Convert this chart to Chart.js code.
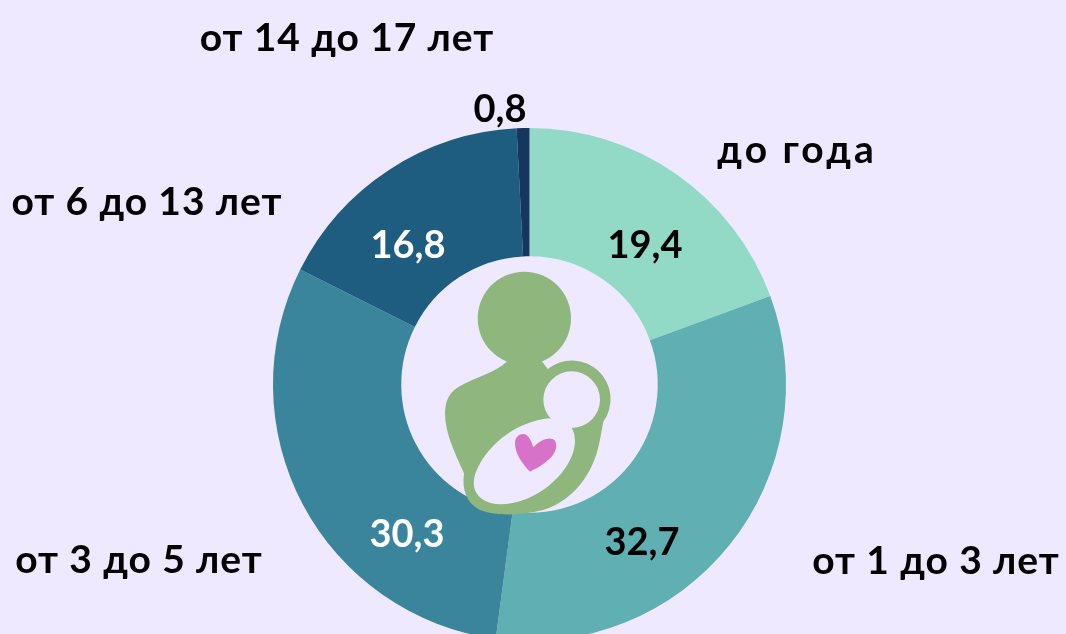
<!DOCTYPE html>
<html lang="ru">
<head>
<meta charset="utf-8">
<title>Возраст детей</title>
<script src="https://cdn.jsdelivr.net/npm/chart.js@4"></script>
<style>
    html, body { margin: 0; width: 1066px; height: 634px; overflow: hidden; background: #EEE9FF; }
    #wrap { position: relative; width: 1066px; height: 634px; overflow: hidden; }
    canvas { position: absolute; left: 0; top: 0; }
    #icon { position: absolute; left: 400px; top: 250px; width: 260px; height: 280px; }
</style>
</head>
<body>
<div id="wrap">
    <canvas id="chartVozrast" width="1066" height="700"></canvas>
    <svg id="icon" viewBox="0 0 780 840">
        <circle cx="373" cy="205" r="140" fill="#8FB67C"/>
        <path fill="#8FB67C" d="M320,335 C290,365 230,380 180,408 C150,425 135,450 135,490 C135,550 165,610 192,670 C185,720 200,760 240,780 C290,800 370,795 430,780 C510,755 565,690 590,610 C600,575 605,540 610,515 A116,116 0 0 0 443,357 L427,335 Z"/>
        <circle cx="515" cy="449" r="85" fill="#EEE9FF"/>
        <path fill="#EEE9FF" d="M448,505 C350,515 270,580 235,650 C205,705 225,755 290,762 C370,770 470,710 510,630 C530,590 528,555 515,533 Z"/>
        <path fill="#D673C9" d="M390,665 C365,640 345,610 345,580 C345,560 358,552 370,552 C385,552 395,575 400,592 C415,575 440,560 458,567 C475,575 472,605 450,625 C430,645 410,655 390,665 Z"/>
    </svg>
</div>
<script>
const categorias = ["до года", "от 1 до 3 лет", "от 3 до 5 лет", "от 6 до 13 лет", "от 14 до 17 лет"];
const valores = [19.4, 32.7, 30.3, 16.8, 0.8];
const colores = ["#92DAC5", "#60AFB2", "#3A859C", "#1E5D7F", "#15375F"];
const coloresValor = ["#000000", "#000000", "#FFFFFF", "#FFFFFF", "#000000"];

// posiciones de los textos, a mano
const posCategoria = [[797, 150], [936, 561], [139, 560], [147, 202], [347, 38]];
const posValor = [[645, 246], [642, 543], [407, 535], [408, 246], [500, 110]];
const espaciado = ["3px", "0.9px", "0.9px", "0.9px", "0.9px"];

const textos = {
    id: "textos",
    afterDraw(chart) {
        const ctx = chart.ctx;
        ctx.save();
        ctx.textAlign = "center";
        ctx.textBaseline = "middle";
        ctx.font = "700 39px Lato";
        ctx.fillStyle = "#000000";
        categorias.forEach((c, i) => {
            ctx.letterSpacing = espaciado[i];
            ctx.fillText(c, posCategoria[i][0], posCategoria[i][1]);
        });
        ctx.font = "700 38px Lato";
        ctx.letterSpacing = "0px";
        valores.forEach((v, i) => {
            ctx.fillStyle = coloresValor[i];
            ctx.fillText(String(v).replace(".", ","), posValor[i][0], posValor[i][1]);
        });
        ctx.restore();
    }
};

new Chart(document.getElementById("chartVozrast").getContext("2d"), {
    type: "doughnut",
    data: {
        labels: categorias,
        datasets: [{
            data: valores,
            backgroundColor: colores,
            borderWidth: 0
        }]
    },
    options: {
        responsive: false,
        animation: false,
        cutout: "50%",
        layout: { padding: { left: 273, right: 280, top: 128, bottom: 59 } },
        plugins: {
            legend: { display: false },
            tooltip: { enabled: false }
        }
    },
    plugins: [textos]
});
</script>
</body>
</html>
